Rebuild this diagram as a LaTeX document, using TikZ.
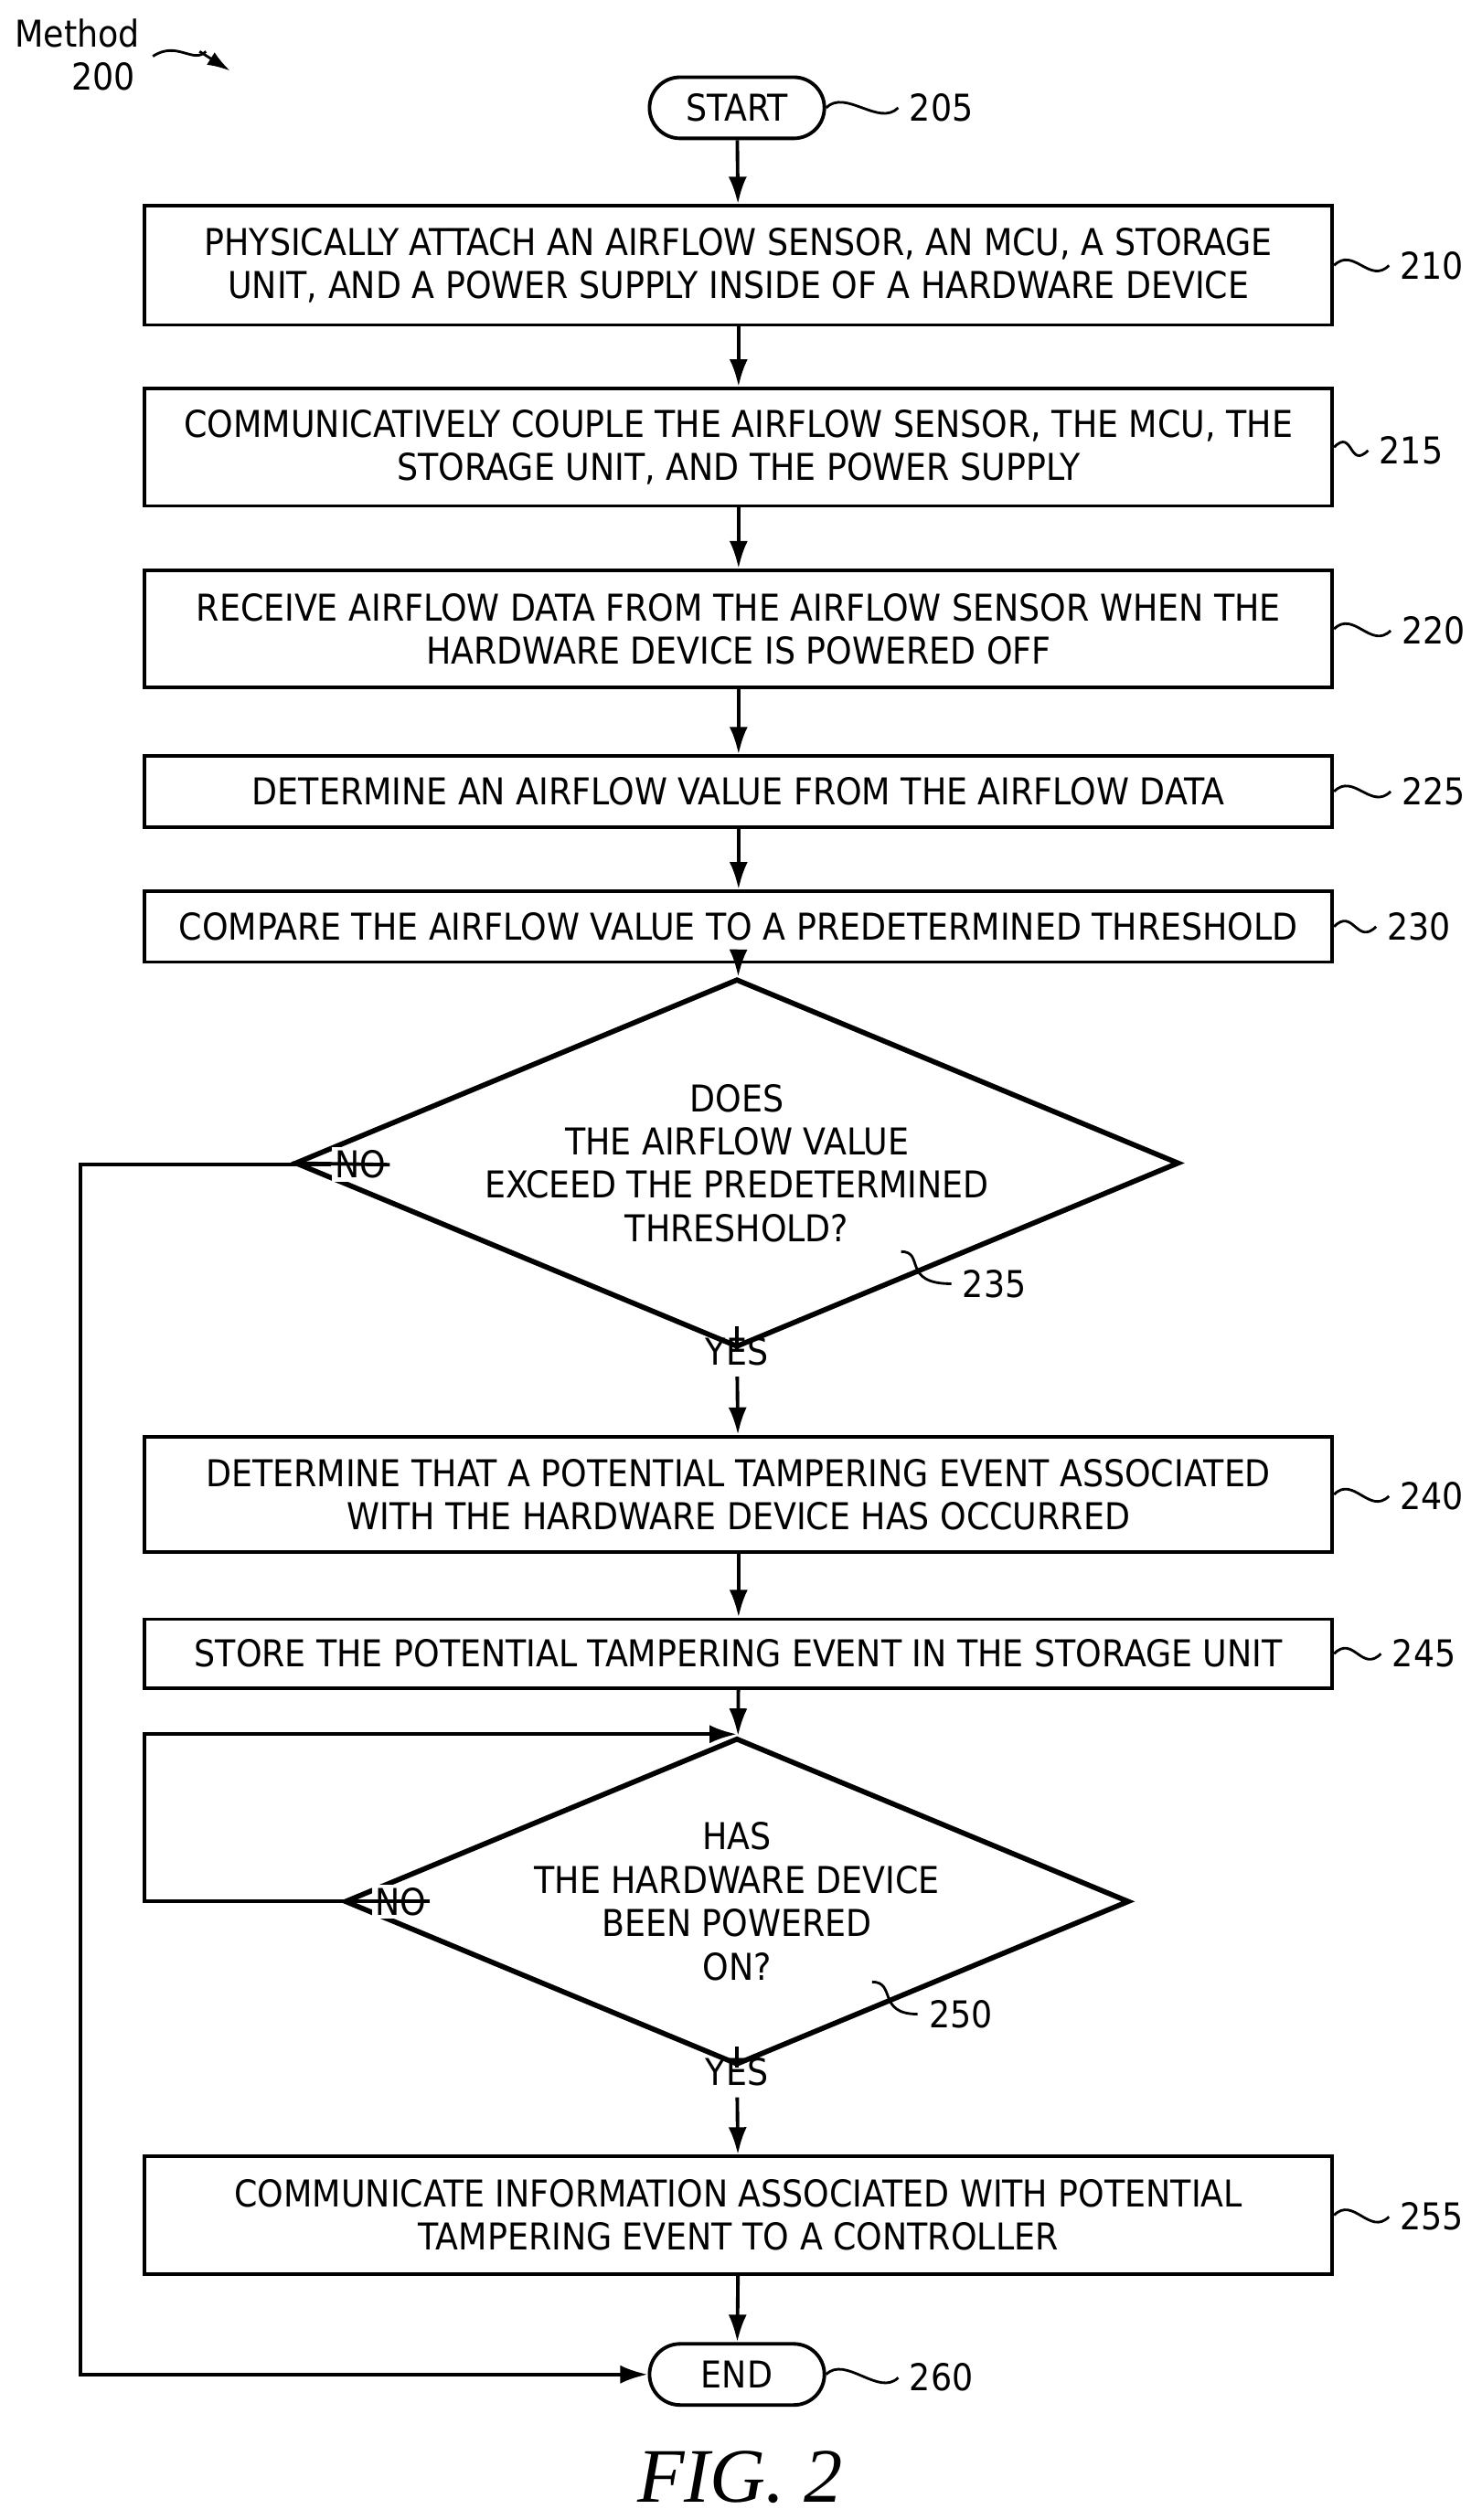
\documentclass[tikz,border=0pt]{standalone}
\usepackage{fontspec}
\setmainfont{DejaVu Sans Condensed}
\newfontfamily\figfont{Liberation Serif}
\usetikzlibrary{arrows.meta,positioning,shapes.geometric,shapes.misc}

\tikzset{
	procbox/.style={rectangle,draw,line width=1.1pt,minimum width=738*0.0176cm,align=center,font=\fontsize{11.5}{13.5}\selectfont,inner sep=2pt},
	term/.style={rounded rectangle,draw,line width=1.1pt,minimum width=122*0.0176cm,minimum height=38*0.0176cm,font=\fontsize{11.5}{13.5}\selectfont},
	test/.style={diamond,draw,line width=1.6pt,aspect=2.4,align=center,font=\fontsize{11.5}{13.5}\selectfont,inner sep=0pt},
	lbl/.style={font=\fontsize{11.5}{13.5}\selectfont},
	flow/.style={line width=1.1pt,-{Latex[length=3mm,width=2mm]}},
	lead/.style={line width=0.8pt}
}

\begin{document}
\begin{tikzpicture}[x=0.0176cm,y=-0.0176cm]
	\useasboundingbox (0,0) rectangle (920.5,1566.5);

	% steps
	\node[term] (start) at (458,67) {START};
	\node[procbox,minimum height=74*0.0176cm] (s210) at (459,165) {PHYSICALLY ATTACH AN AIRFLOW SENSOR, AN MCU, A STORAGE\\UNIT, AND A POWER SUPPLY INSIDE OF A HARDWARE DEVICE};
	\node[procbox,minimum height=73*0.0176cm] (s215) at (459,278) {COMMUNICATIVELY COUPLE THE AIRFLOW SENSOR, THE MCU, THE\\STORAGE UNIT, AND THE POWER SUPPLY};
	\node[procbox,minimum height=73*0.0176cm] (s220) at (459,391) {RECEIVE AIRFLOW DATA FROM THE AIRFLOW SENSOR WHEN THE\\HARDWARE DEVICE IS POWERED OFF};
	\node[procbox,minimum height=44*0.0176cm] (s225) at (459,492) {DETERMINE AN AIRFLOW VALUE FROM THE AIRFLOW DATA};
	\node[procbox,minimum height=44*0.0176cm] (s230) at (459,576) {COMPARE THE AIRFLOW VALUE TO A PREDETERMINED THRESHOLD};
	\node[test,minimum width=410*0.0176cm,minimum height=170*0.0176cm] (d235) at (458,723) {DOES\\THE AIRFLOW VALUE\\EXCEED THE PREDETERMINED\\THRESHOLD?};
	\node[procbox,minimum height=72*0.0176cm] (s240) at (459,929) {DETERMINE THAT A POTENTIAL TAMPERING EVENT ASSOCIATED\\WITH THE HARDWARE DEVICE HAS OCCURRED};
	\node[procbox,minimum height=43*0.0176cm] (s245) at (459,1028) {STORE THE POTENTIAL TAMPERING EVENT IN THE STORAGE UNIT};
	\node[test,minimum width=361*0.0176cm,minimum height=155*0.0176cm] (d250) at (458,1182) {HAS\\THE HARDWARE DEVICE\\BEEN POWERED\\ON?};
	\node[procbox,minimum height=73*0.0176cm] (s255) at (459,1377) {COMMUNICATE INFORMATION ASSOCIATED WITH POTENTIAL\\TAMPERING EVENT TO A CONTROLLER};
	\node[term] (end) at (458,1476) {END};

	% branch labels
	\node[lbl,fill=white,inner sep=1pt] (no1) at (224,724) {NO};
	\node[lbl] (yes1) at (458,840) {YES};
	\node[lbl,fill=white,inner sep=1pt] (no2) at (249,1182) {NO};
	\node[lbl] (yes2) at (458,1288) {YES};
	\coordinate (c1) at (50,724);
	\coordinate (c2) at (90,1182);
	\coordinate (c3) at (90,1078);

	% connectors
	\draw[flow] (start) -- (s210);
	\draw[flow] (s210) -- (s215);
	\draw[flow] (s215) -- (s220);
	\draw[flow] (s220) -- (s225);
	\draw[flow] (s225) -- (s230);
	\draw[flow] (s230) -- (d235);
	\draw[line width=1.1pt] (d235) -- (yes1);
	\draw[flow] (yes1) -- (s240);
	\draw[flow] (s240) -- (s245);
	\draw[flow] (s245) -- (d250);
	\draw[line width=1.1pt] (d250) -- (yes2);
	\draw[flow] (yes2) -- (s255);
	\draw[flow] (s255) -- (end);
	\draw[line width=1.1pt] (d235.west) -- (no1.east);
	\draw[flow] (no1.west) -- (c1) |- (end.west);
	\draw[line width=1.1pt] (d250.west) -- (no2.east);
	\draw[flow] (no2.west) -- (c2) -- (c3) -- (458,1078);

	% reference numerals
	\node[lbl] (n205) at (585,67) {205};
	\node[lbl] (n210) at (890,165) {210};
	\node[lbl] (n215) at (877,280) {215};
	\node[lbl] (n220) at (891,392) {220};
	\node[lbl] (n225) at (891,492) {225};
	\node[lbl] (n230) at (882,576) {230};
	\node[lbl] (n235) at (618,798) {235};
	\node[lbl] (n240) at (890,930) {240};
	\node[lbl] (n245) at (885,1028) {245};
	\node[lbl] (n250) at (597,1252) {250};
	\node[lbl] (n255) at (890,1378) {255};
	\node[lbl] (n260) at (585,1478) {260};
	\foreach \a/\b in {start/n205,s210/n210,s215/n215,s220/n220,s225/n225,s230/n230,s240/n240,s245/n245,s255/n255,end/n260}
		\draw[lead] (\a.east) .. controls +(12,-12) and +(-12,12) .. (\b.west);
	\draw[lead] (560,778) .. controls (575,778) and (560,798) .. (n235.west);
	\draw[lead] (542,1232) .. controls (557,1232) and (545,1252) .. (n250.west);

	% title
	\node[lbl,align=center] (method) at (48,34) {Method\\\hspace*{1.4em}200};
	\draw[lead] (95,35) .. controls (110,25) and (120,40) .. (128,32);
	\draw[lead,-{Latex[length=2.5mm,width=1.6mm]}] (124,32) -- (143,44);
	\node[font=\figfont\itshape\fontsize{24}{28}\selectfont] (fig) at (460,1540) {FIG. 2};
\end{tikzpicture}
\end{document}
